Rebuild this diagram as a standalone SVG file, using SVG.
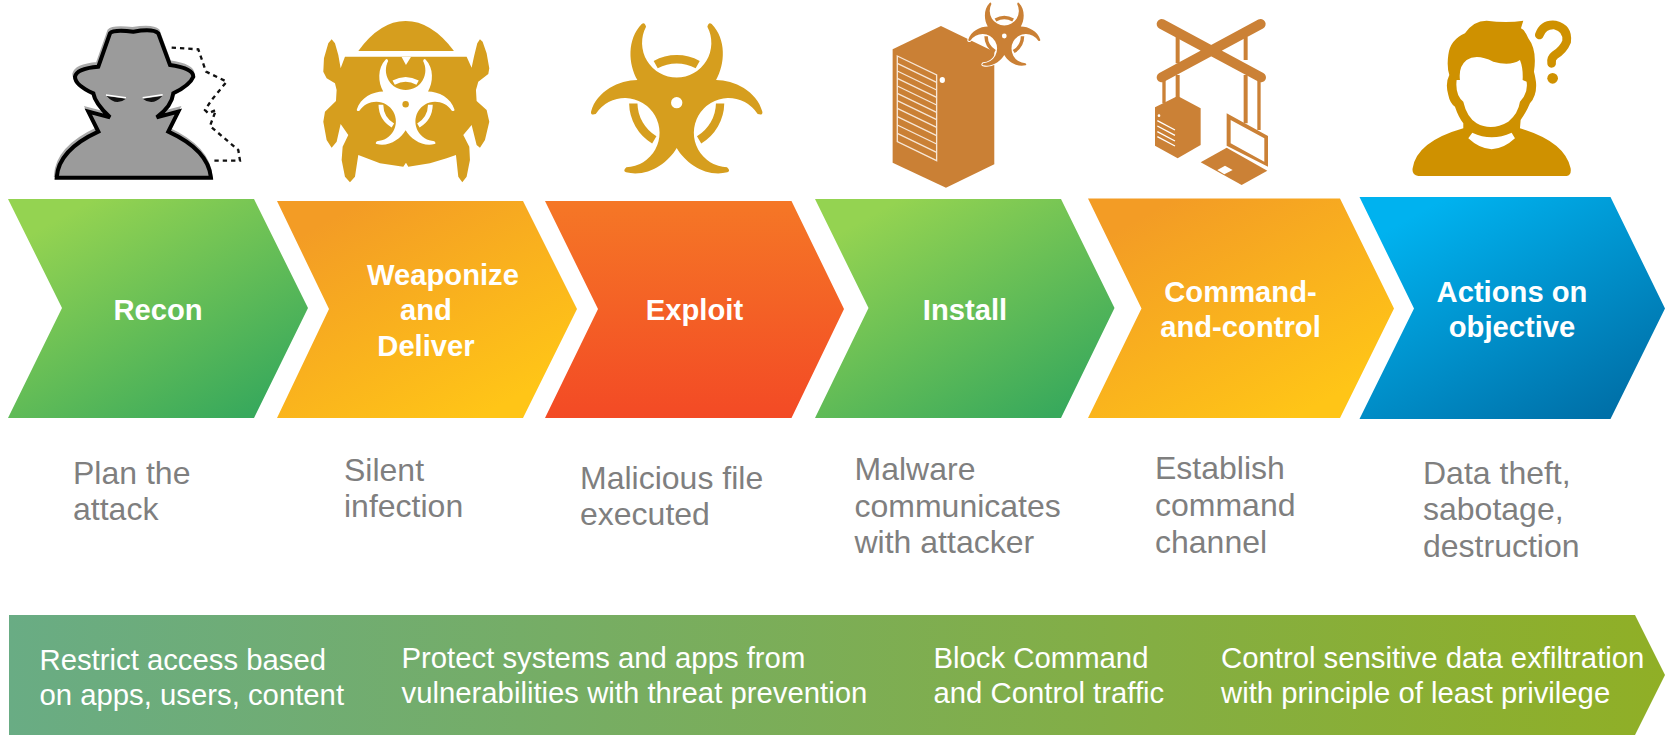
<svg xmlns="http://www.w3.org/2000/svg" xmlns:xlink="http://www.w3.org/1999/xlink" width="1665" height="735" viewBox="0 0 1665 735">
<style>
text{font-family:"Liberation Sans",Arial,sans-serif}
.t{font-weight:700;font-size:29.2px;fill:#fff;text-anchor:middle}
.d{font-size:32px;fill:#7f7f7f}
.b{font-size:29.3px;fill:#fff}
</style>
<defs>
<linearGradient id="gG" x1="0.12" y1="0" x2="0.88" y2="1"><stop offset="0.08" stop-color="#94d351"/><stop offset="0.95" stop-color="#38a95c"/></linearGradient>
<linearGradient id="gO" x1="0.12" y1="0" x2="0.88" y2="1"><stop offset="0.08" stop-color="#f39c25"/><stop offset="0.9" stop-color="#ffc517"/></linearGradient>
<linearGradient id="gR" x1="0" y1="0" x2="0" y2="1"><stop offset="0" stop-color="#f57726"/><stop offset="1" stop-color="#f34a25"/></linearGradient>
<linearGradient id="gB" x1="0.12" y1="0" x2="0.88" y2="1"><stop offset="0.08" stop-color="#00b2ef"/><stop offset="0.95" stop-color="#0070a8"/></linearGradient>
<linearGradient id="gBand" x1="0" y1="0" x2="1" y2="0"><stop offset="0" stop-color="#69ac84"/><stop offset="1" stop-color="#90af26"/></linearGradient>
<path id="bioP" stroke="none" d="M-118,-68C-145,-115 -150,-190 -105,-236Q-96,-244 -92,-228A104 104 0 1 0 92,-228Q96,-244 105,-236C150,-190 145,-115 118,-68C172,-68 240,-35 257,27Q259,39 243,34A104 104 0 1 0 151,194Q163,205 152,209C90,225 27,183 0,136C-27,183 -90,225 -152,209Q-163,205 -151,194A104 104 0 1 0 -243,34Q-259,39 -257,27C-240,-35 -172,-68 -118,-68Z"/>
<path id="bioB" d="M-63,-114A130 130 0 0 1 63,-114" fill="none" stroke-width="25"/>
<g id="bio">
<use xlink:href="#bioP" href="#bioP"/>
<use xlink:href="#bioB" href="#bioB"/>
<use xlink:href="#bioB" href="#bioB" transform="rotate(120)"/>
<use xlink:href="#bioB" href="#bioB" transform="rotate(240)"/>
</g>
</defs>
<rect width="1665" height="735" fill="#fff"/>

<g id="icon-recon" transform="translate(30,0) scale(0.3333)">
<path transform="translate(-2,-8)" d="M80,533Q85,450 205,395L175,335L240,352Q195,310 190,280Q135,255 135,230Q140,205 205,200L240,100Q250,88 310,95Q370,85 385,100L420,195Q490,205 490,230Q480,255 430,280Q425,320 380,352L445,335L415,395Q535,450 543,533Z" fill="#aaa" stroke="#aaa" stroke-width="12"/>
<path d="M80,533Q85,450 205,395L175,335L240,352Q195,310 190,280Q135,255 135,230Q140,205 205,200L240,100Q250,88 310,95Q370,85 385,100L420,195Q490,205 490,230Q480,255 430,280Q425,320 380,352L445,335L415,395Q535,450 543,533Z" fill="#9b9b9b" stroke="#000" stroke-width="12"/>
<path d="M230,288Q258,320 288,296Z M338,296Q368,320 397,288Z" fill="#111"/>
<path d="M228,285L288,293M338,293L398,284" stroke="#fff" stroke-width="4.5" fill="none"/>
<path d="M425,143L505,148L528,215L590,245L545,300L525,330L535,340L558,330L540,378L625,450L630,482L543,482" fill="none" stroke="#111" stroke-width="7" stroke-dasharray="13 12"/>
</g>

<g id="icon-weaponize" transform="translate(30,0) scale(0.3333)">
<path d="M985,153Q1050,63 1127,63Q1205,63 1272,153Z" fill="#d69e1e"/>
<path d="M945,170L1310,170L1325,203L1332,170L1342,130L1350,118L1358,125L1370,160L1378,205L1375,222L1345,245L1338,270L1340,303L1370,330L1378,365L1365,420L1350,443L1340,435L1325,375L1300,405L1318,440L1320,480L1310,530L1297,547L1285,530L1278,465L1250,475L1200,490L1135,500L1128,488L1120,500L1050,490L985,465L975,530L960,547L945,530L935,480L938,440L955,405L932,372L920,425L905,443L890,420L880,365L885,335L918,303L920,270L915,250L890,235L880,215L882,175L895,130L905,118L915,130L925,165L932,205Z" fill="#d69e1e"/>
<path d="M1115,171L1128,195L1143,171Z" fill="#fff"/>
<g transform="translate(1127,313) scale(0.57)" fill="#fff" stroke="#fff"><use xlink:href="#bio" href="#bio"/><circle r="17" fill="#d69e1e" stroke="none"/></g>
</g>

<g id="icon-exploit" transform="translate(676.7,102.7) scale(0.3333)" fill="#d69e1e" stroke="#d69e1e">
<use xlink:href="#bio" href="#bio"/>
<circle r="17" fill="#fff" stroke="none"/>
</g>

<g id="icon-install" transform="translate(560,0) scale(0.3333)">
<path d="M998,148L1143,78L1303,155L1303,493L1158,563L998,488Z" fill="#ca8035"/>
<path d="M1012,168L1130,225L1130,482L1012,425Z" fill="none" stroke="#f7e6d6" stroke-width="4"/>
<path d="M1012,190L1130,247M1012,213L1130,270M1012,235L1130,292M1012,258L1130,315M1012,280L1130,337M1012,302L1130,359M1012,325L1130,382M1012,350L1130,407M1012,375L1130,432M1012,400L1130,457" stroke="#f7e6d6" stroke-width="4" fill="none"/>
<ellipse cx="1147" cy="240" rx="8" ry="9" fill="#fff"/>
<g transform="translate(1333,108) scale(0.42)"><path d="M-118,-68C-145,-115 -150,-190 -105,-236Q-96,-244 -92,-228A104 104 0 1 0 92,-228Q96,-244 105,-236C150,-190 145,-115 118,-68C172,-68 240,-35 257,27Q259,39 243,34A104 104 0 1 0 151,194Q163,205 152,209C90,225 27,183 0,136C-27,183 -90,225 -152,209Q-163,205 -151,194A104 104 0 1 0 -243,34Q-259,39 -257,27C-240,-35 -172,-68 -118,-68Z" fill="#fff" stroke="#fff" stroke-width="14"/></g>
<g transform="translate(1333,108) scale(0.42)" fill="#ca8035" stroke="#ca8035"><use xlink:href="#bio" href="#bio"/><circle r="17" fill="#fff" stroke="none"/></g>
</g>

<g id="icon-c2" transform="translate(1130,0) scale(0.3333)">
<g stroke="#cb8136" fill="none">
<path d="M143,110V190M347,110V180M143,225V295M347,225V370" stroke-width="12"/>
<path d="M102,240V310M387,240V390" stroke-width="10"/>
<path d="M95,72L393,232M392,72L95,232" stroke-width="30" stroke-linecap="round"/>
</g>
<path d="M75,322L143,288L212,325L212,435L143,475L75,437Z" fill="#cb8136"/>
<path d="M82,362L135,390M82,378L135,406M82,395L135,423M82,410L135,438" stroke="#fff" stroke-width="4" fill="none"/>
<circle cx="87" cy="347" r="4" fill="#fff"/>
<path fill-rule="evenodd" d="M290,340L414,408L414,500L290,437ZM302,360L403,415L403,485L302,430Z" fill="#cb8136"/>
<path d="M212,487L290,443L412,512L335,555Z" fill="#cb8136"/>
<path d="M262,510L285,497L308,510L283,523Z" fill="#fff"/>
</g>

<g id="icon-actions" transform="translate(1130,0) scale(0.3333)">
<path d="M865,528L1310,528Q1325,525 1322,505Q1305,425 1170,385L1172,360Q1190,335 1200,310Q1222,285 1218,245Q1215,225 1212,215Q1222,150 1195,115Q1185,90 1173,85L1180,62Q1130,70 1070,62Q1030,62 1005,100Q960,120 955,165Q950,200 958,225Q945,250 955,285Q960,310 975,320Q985,350 1000,370L1000,385Q860,425 848,505Q845,525 865,528Z" fill="#cf9100"/>
<path d="M990,240Q985,200 1010,180Q1040,160 1090,185Q1140,200 1170,180Q1180,205 1178,240L1190,245Q1195,280 1170,305Q1165,340 1135,365Q1085,395 1040,370Q1010,350 1000,305Q975,285 980,240Z" fill="#fff"/>
<path d="M1015,415L1027,398Q1085,425 1145,398L1155,415Q1085,480 1015,415Z" fill="#fff"/>
<path d="M1228,105Q1240,72 1275,75Q1315,85 1310,125Q1300,150 1275,165Q1262,175 1265,190" fill="none" stroke="#cf9100" stroke-width="26" stroke-linecap="round"/>
<circle cx="1268" cy="235" r="16" fill="#cf9100"/>
</g>

<g id="step-recon">
<polygon points="8,199 254,199 308,308 254,418 8,418 62,308" fill="url(#gG)"/>
<text class="t" x="158" y="320">Recon</text>
<text class="d" x="73" y="484">Plan the</text><text class="d" x="73" y="520">attack</text>
</g>
<g id="step-weaponize">
<polygon points="277,201 523,201 577,309 523,418 277,418 329,309" fill="url(#gO)"/>
<text class="t" x="443" y="285">Weaponize</text><text class="t" x="426" y="320">and</text><text class="t" x="426" y="356">Deliver</text>
<text class="d" x="344" y="480.5">Silent</text><text class="d" x="344" y="516.5">infection</text>
</g>
<g id="step-exploit">
<polygon points="545,201 791.5,201 844,309 791.5,418 545,418 598,309" fill="url(#gR)"/>
<text class="t" x="694.5" y="320">Exploit</text>
<text class="d" x="580" y="489">Malicious file</text><text class="d" x="580" y="525">executed</text>
</g>
<g id="step-install">
<polygon points="815,199 1061,199 1114.5,308 1061,418 815,418 868.5,308" fill="url(#gG)"/>
<text class="t" x="965" y="320">Install</text>
<text class="d" x="854.5" y="480">Malware</text><text class="d" x="854.5" y="517">communicates</text><text class="d" x="854.5" y="553">with attacker</text>
</g>
<g id="step-c2">
<polygon points="1088,198.5 1340,198.5 1394,308.5 1340,418 1088,418 1141.5,308.5" fill="url(#gO)"/>
<text class="t" x="1240.5" y="302">Command-</text><text class="t" x="1240.5" y="337">and-control</text>
<text class="d" x="1155" y="479">Establish</text><text class="d" x="1155" y="516">command</text><text class="d" x="1155" y="552.5">channel</text>
</g>
<g id="step-actions">
<polygon points="1359.5,197 1610.5,197 1665,308.5 1610.5,419 1359.5,419 1414,308.5" fill="url(#gB)"/>
<text class="t" x="1512" y="302">Actions on</text><text class="t" x="1512" y="337">objective</text>
<text class="d" x="1423" y="484">Data theft,</text><text class="d" x="1423" y="520">sabotage,</text><text class="d" x="1423" y="557">destruction</text>
</g>

<g id="controls">
<polygon points="9,615 1635,615 1665,675 1635,735 9,735" fill="url(#gBand)"/>
<text class="b" x="39.5" y="670">Restrict access based</text><text class="b" x="39.5" y="705">on apps, users, content</text>
<text class="b" x="401.5" y="668">Protect systems and apps from</text><text class="b" x="401.5" y="703">vulnerabilities with threat prevention</text>
<text class="b" x="933.5" y="668">Block Command</text><text class="b" x="933.5" y="703">and Control traffic</text>
<text class="b" x="1221" y="668">Control sensitive data exfiltration</text><text class="b" x="1221" y="703">with principle of least privilege</text>
</g>
</svg>
